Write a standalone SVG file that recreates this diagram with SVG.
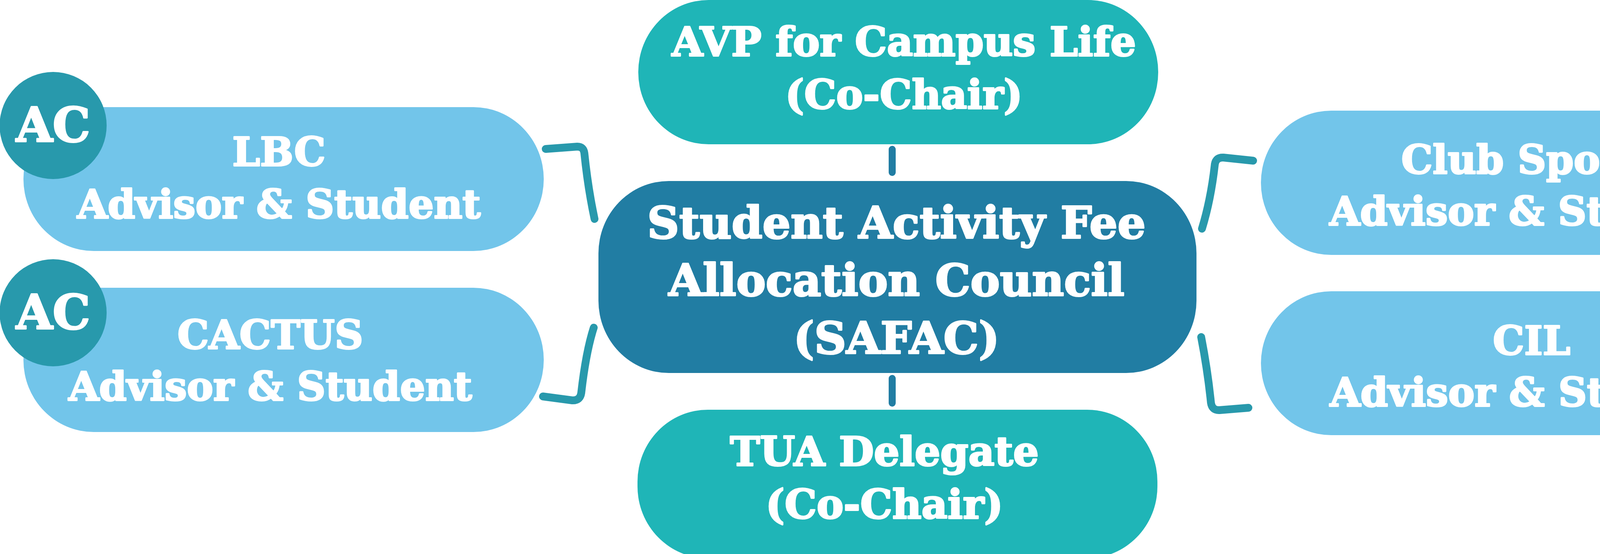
<svg xmlns="http://www.w3.org/2000/svg" width="4648" height="1417" viewBox="0 0 4648 1417">
<style>
.t{font-family:"DejaVu Serif","Liberation Serif",serif;font-weight:bold;fill:#ffffff;stroke:#ffffff;stroke-width:4;stroke-linejoin:round;text-anchor:middle}
.s{font-size:101px}
.m{font-size:103px}
.l{font-size:113px}
.ac{font-size:121px}
.side{fill:#72C5EA}
.co{fill:#1FB5B7}
.main{fill:#217DA3}
.circ{fill:#2899AC}
.br{fill:none;stroke:#2899AC;stroke-width:20;stroke-linecap:round;stroke-linejoin:round}
.vl{fill:none;stroke:#217DA3;stroke-width:18;stroke-linecap:round}
</style>
<rect width="4648" height="1417" fill="#ffffff"/>
<g id="connectors">
<path class="br" d="M1397,381 L1478,375 Q1494,375 1496,392 Q1505,480 1522,560"/>
<path class="br" d="M1520,838 Q1500,900 1488,1005 Q1485,1025 1465,1024 L1390,1014"/>
<path class="br" d="M3077,585 Q3100,510 3110,420 Q3113,402 3132,403 L3208,411"/>
<path class="br" d="M3075,862 Q3092,950 3100,1030 Q3103,1050 3122,1049 L3196,1043"/>
<line class="vl" x1="2284" y1="382" x2="2284" y2="441"/>
<line class="vl" x1="2284" y1="968" x2="2284" y2="1031"/>
</g>
<g id="avp">
<rect class="co" x="1634" y="0" width="1331" height="369" rx="180" ry="184"/>
<text class="t m" x="2314" y="143">AVP for Campus Life</text>
<text class="t m" x="2314" y="278">(Co-Chair)</text>
</g>
<g id="safac">
<rect class="main" x="1532" y="463" width="1531" height="491" rx="180" ry="185"/>
<text class="t l" x="2295" y="609">Student Activity Fee</text>
<text class="t l" x="2295" y="756">Allocation Council</text>
<text class="t l" x="2295" y="904">(SAFAC)</text>
</g>
<g id="tua">
<rect class="co" x="1632" y="1048" width="1331" height="380" rx="180" ry="184"/>
<text class="t m" x="2264" y="1191">TUA Delegate</text>
<text class="t m" x="2264" y="1326">(Co-Chair)</text>
</g>
<g id="lbc">
<rect class="side" x="60" y="274" width="1332" height="368" rx="180" ry="184"/>
<circle class="circ" cx="136" cy="321" r="137"/>
<text class="t ac" x="136" y="362">AC</text>
<text class="t s" x="714" y="424">LBC</text>
<text class="t s" x="714" y="558">Advisor &amp; Student</text>
</g>
<g id="cactus">
<rect class="side" x="60" y="736" width="1332" height="369" rx="180" ry="184"/>
<circle class="circ" cx="136" cy="800" r="137"/>
<text class="t ac" x="136" y="841">AC</text>
<text class="t s" x="692" y="892">CACTUS</text>
<text class="t s" x="692" y="1024">Advisor &amp; Student</text>
</g>
<g id="clubsports">
<rect class="side" x="3228" y="283" width="1333" height="369" rx="180" ry="184"/>
<circle class="circ" cx="4510" cy="332" r="137"/>
<text class="t ac" x="4510" y="373">AC</text>
<text class="t s" x="3920" y="444">Club Sports</text>
<text class="t s" x="3920" y="576">Advisor &amp; Student</text>
</g>
<g id="cil">
<rect class="side" x="3228" y="745" width="1333" height="368" rx="180" ry="184"/>
<circle class="circ" cx="4510" cy="827" r="137"/>
<text class="t ac" x="4510" y="867">AC</text>
<text class="t s" x="3921" y="907">CIL</text>
<text class="t s" x="3921" y="1039">Advisor &amp; Student</text>
</g>
</svg>
